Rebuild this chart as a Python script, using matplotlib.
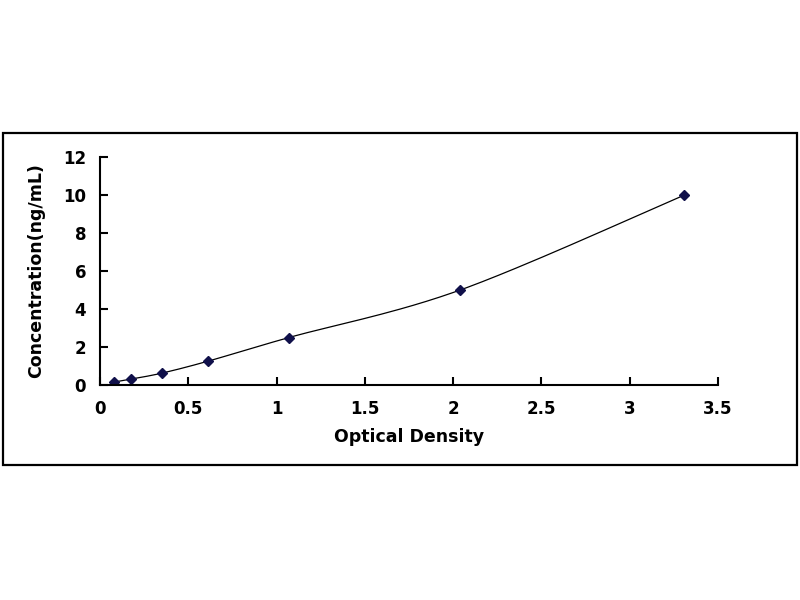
import matplotlib
matplotlib.use("Agg")
import matplotlib.pyplot as plt
import numpy as np
from matplotlib.patches import Rectangle

od = [0.08, 0.176, 0.35, 0.61, 1.07, 2.04, 3.31]
conc = [0.156, 0.312, 0.625, 1.25, 2.5, 5.0, 10.0]
x_ticks = [0, 0.5, 1, 1.5, 2, 2.5, 3, 3.5]
x_tick_labels = ["0", "0.5", "1", "1.5", "2", "2.5", "3", "3.5"]
y_ticks = [0, 2, 4, 6, 8, 10, 12]

navy = "#10104a"


def smooth_line(xs, ys, steps=30):
    # catmull-rom style smoothing, like the spreadsheet's "smoothed line"
    xs = np.asarray(xs, float)
    ys = np.asarray(ys, float)
    px = np.concatenate([[xs[0]], xs, [xs[-1]]])
    py = np.concatenate([[ys[0]], ys, [ys[-1]]])
    out_x, out_y = [], []
    t = np.linspace(0, 1, steps)
    for i in range(1, len(px) - 2):
        for p, out in ((px, out_x), (py, out_y)):
            p0, p1, p2, p3 = p[i - 1], p[i], p[i + 1], p[i + 2]
            out.extend(0.5 * (2 * p1 + (-p0 + p2) * t
                              + (2 * p0 - 5 * p1 + 4 * p2 - p3) * t ** 2
                              + (-p0 + 3 * p1 - 3 * p2 + p3) * t ** 3))
    return out_x, out_y


plt.rcParams['font.family'] = ['DejaVu Sans']

fig = plt.figure(figsize=(8, 6), dpi=100)
fig.patches.append(Rectangle((0.004, 0.225), 0.992, 0.553, transform=fig.transFigure,
                             fill=False, edgecolor="black", linewidth=1.6))

ax = fig.add_axes([0.125, 0.3583, 0.7725, 0.38])
sx, sy = smooth_line(od, conc)
ax.plot(sx, sy, color="black", linewidth=0.9)
ax.plot(od, conc, linestyle="none", marker="D", markersize=5, color=navy)

ax.set_xlim(0, 3.5)
ax.set_ylim(0, 12)
ax.set_xticks(x_ticks)
ax.set_xticklabels(x_tick_labels)
ax.set_yticks(y_ticks)
for s in ("top", "right"):
    ax.spines[s].set_visible(False)
for s in ("left", "bottom"):
    ax.spines[s].set_linewidth(1.5)
ax.tick_params(axis="both", direction="in", length=6, width=1.5, labelsize=12)
ax.tick_params(axis="x", pad=11)
ax.tick_params(axis="y", pad=10)
for lbl in ax.get_xticklabels() + ax.get_yticklabels():
    lbl.set_fontweight("bold")

ax.set_xlabel("Optical Density", fontsize=12.5, fontweight="bold", labelpad=7)
ax.set_ylabel("Concentration(ng/mL)", fontsize=12.5, fontweight="bold", labelpad=13)

fig.savefig("out.png", dpi=100)
